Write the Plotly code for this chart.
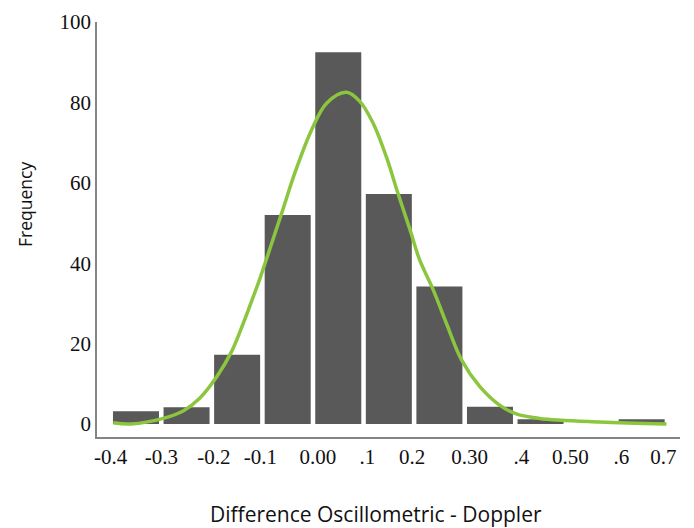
import plotly.graph_objects as go

# Histogram bins (centres) and frequencies
bin_centers = [-0.35, -0.25, -0.15, -0.05, 0.05, 0.15, 0.25, 0.35, 0.45, 0.55, 0.65]
frequencies = [3.2, 4.2, 17.2, 52, 92.5, 57.2, 34.2, 4.3, 1.2, 0, 1.2]

# Fitted curve
curve_x = [-0.395, -0.36, -0.296, -0.256, -0.224, -0.19, -0.161, -0.138, -0.118, -0.106,
           -0.062, -0.036, -0.003, 0.027, 0.066, 0.093, 0.119, 0.145, 0.168, 0.192,
           0.211, 0.238, 0.264, 0.294, 0.33, 0.369, 0.402, 0.448, 0.567, 0.699]
curve_y = [0.3, 0.0, 1.4, 3.3, 6.4, 11.8, 18.0, 25.0, 31.7, 35.8,
           52.4, 62.4, 73.1, 79.8, 82.5, 80.2, 74.8, 66.5, 57.4, 48.3,
           40.8, 33.3, 25.0, 15.9, 9.3, 4.7, 2.5, 1.4, 0.5, 0.0]

# x tick labels as printed, and where they sit
x_tick_vals = [-0.4, -0.3, -0.196, -0.104, 0.0097, 0.1075, 0.196, 0.31, 0.412, 0.509, 0.61, 0.693]
x_tick_text = ["-0.4", "-0.3", "-0.2", "-0.1", "0.00", ".1", "0.2", "0.30", ".4", "0.50", ".6", "0.7"]
y_tick_vals = [0, 20, 40, 60, 80, 100]

# page has an 8px body margin; figure is sized to fit inside the 694x528 window
OFF = 8
W, H = 694 - OFF, 528 - OFF
L, R, T, B = 97 - OFF, 14, 22 - OFF, 91

fig = go.Figure()
fig.add_trace(go.Bar(
    x=bin_centers, y=frequencies, width=0.091,
    marker=dict(color="#595959", line=dict(width=0)),
    showlegend=False, hoverinfo="skip"))
fig.add_trace(go.Scatter(
    x=curve_x, y=curve_y, mode="lines",
    line=dict(color="#8CC63F", width=3.5, shape="spline", smoothing=1.0),
    showlegend=False, hoverinfo="skip"))

serif = dict(family="Liberation Serif, Times New Roman, serif", size=21, color="#111111")


def px_to_paper(px, py):
    pw = W - L - R
    ph = H - T - B
    fx = (px - OFF) - L
    fy = (H - B) - (py - OFF)
    return fx / pw, fy / ph


xt_x, xt_y = px_to_paper(376, 514)
yt_x, yt_y = px_to_paper(25, 205)

fig.update_layout(
    width=W, height=H,
    margin=dict(l=L, r=R, t=T, b=B, autoexpand=False),
    paper_bgcolor="white", plot_bgcolor="white",
    xaxis=dict(range=[-0.4271, 0.7258], showgrid=False, zeroline=False,
               showline=True, linecolor="#858585", linewidth=1.5,
               tickmode="array", tickvals=x_tick_vals, ticktext=x_tick_text,
               ticks="", tickfont=serif, automargin=False),
    yaxis=dict(range=[-3.23, 100], showgrid=False, zeroline=False,
               showline=True, linecolor="#858585", linewidth=1.5,
               tickmode="array", tickvals=y_tick_vals,
               ticks="", tickfont=serif, automargin=False),
    annotations=[
        dict(text="Difference Oscillometric - Doppler", x=xt_x, y=xt_y,
             xref="paper", yref="paper", showarrow=False,
             xanchor="center", yanchor="middle",
             font=dict(family="Open Sans, sans-serif", size=21, color="#111111")),
        dict(text="Frequency", textangle=-90, x=yt_x, y=yt_y,
             xref="paper", yref="paper", showarrow=False,
             xanchor="center", yanchor="middle",
             font=dict(family="Open Sans, sans-serif", size=17.5, color="#111111")),
    ],
)

fig.write_html("out.html")
